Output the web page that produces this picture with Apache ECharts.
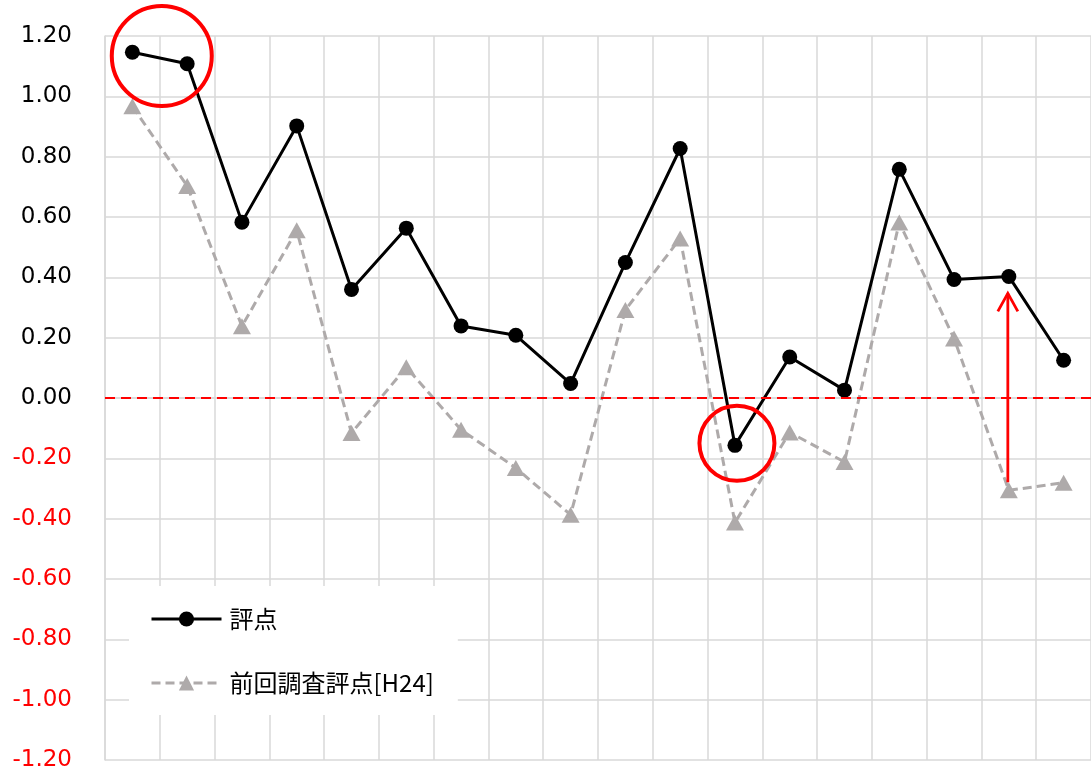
<!DOCTYPE html>
<html>
<head>
<meta charset="utf-8">
<script src="https://cdn.jsdelivr.net/npm/echarts@6/dist/echarts.min.js"></script>
<style>
html, body { margin: 0; padding: 0; background: #ffffff; }
#chart { width: 1091px; height: 772px; }
</style>
</head>
<body>
<div id="chart"></div>
<script>
// ---- data ----
const categories = ['1','2','3','4','5','6','7','8','9','10','11','12','13','14','15','16','17','18'];
const seriesNames = ['評点', '前回調査評点[H24]'];
const scores = [1.146, 1.108, 0.583, 0.902, 0.360, 0.563, 0.239, 0.208, 0.048, 0.449, 0.827, -0.157, 0.136, 0.026, 0.758, 0.393, 0.403, 0.125];
const previousScores = [0.967, 0.703, 0.238, 0.556, -0.116, 0.102, -0.105, -0.232, -0.387, 0.292, 0.529, -0.413, -0.114, -0.212, 0.582, 0.197, -0.306, -0.281];
const yAxisMin = -1.2;
const yAxisMax = 1.2;
const yAxisStep = 0.2;
const referenceLineValue = 0;
// annotations: groups of categories circled in red, and the category with the red arrow
const circledGroups = [[0, 1], [11, 11]];
const arrowCategories = [16];

const chart = echarts.init(document.getElementById('chart'), null, { renderer: 'canvas' });

const gridColor = '#D9D9D9';
const grayColor = '#AEAAAA';
const red = '#FF0000';

const option = {
  animation: false,
  backgroundColor: '#ffffff',
  grid: { left: 105, top: 36, width: 990, height: 724, containLabel: false },
  legend: {
    orient: 'vertical',
    left: 129,
    top: 586,
    data: seriesNames,
    backgroundColor: '#ffffff',
    padding: [20, 24, 19, 21],
    itemGap: 38,
    itemWidth: 70,
    itemHeight: 19,
    lineStyle: { width: 3 },
    textStyle: { fontFamily: '"Noto Sans CJK JP", "DejaVu Sans", sans-serif', fontSize: 24, lineHeight: 26, color: '#000000', padding: [0, 0, 0, 3] },
    selectedMode: false,
    z: 10
  },
  xAxis: [{
    type: 'category',
    data: categories,
    boundaryGap: true,
    axisLine: { show: true, lineStyle: { color: gridColor, width: 1.5 } },
    axisTick: { show: false },
    axisLabel: { show: false },
    splitLine: { show: true, lineStyle: { color: gridColor, width: 1.5 } }
  }],
  yAxis: [{
    type: 'value',
    min: yAxisMin,
    max: yAxisMax,
    interval: yAxisStep,
    axisLine: { show: true, lineStyle: { color: gridColor, width: 1.5 } },
    axisTick: { show: false },
    splitLine: { show: true, lineStyle: { color: gridColor, width: 1.5 } },
    axisLabel: {
      margin: 33,
      fontFamily: '"DejaVu Sans", Verdana, sans-serif',
      fontSize: 23,
      formatter: v => Number(v).toFixed(2),
      color: v => (Number(v) < -1e-9 ? red : '#000000')
    }
  }],
  series: [
    {
      name: seriesNames[1],
      type: 'line',
      data: previousScores,
      z: 2,
      symbol: 'triangle',
      symbolSize: [18, 16],
      itemStyle: { color: grayColor },
      lineStyle: { color: grayColor, width: 3, type: [9, 5] },
      markLine: {
        silent: true,
        symbol: ['none', 'none'],
        label: { show: false },
        lineStyle: { color: red, width: 2.2, type: [10, 6] },
        data: [{ yAxis: referenceLineValue }]
      }
    },
    {
      name: seriesNames[0],
      type: 'line',
      data: scores,
      z: 3,
      symbol: 'circle',
      symbolSize: 15,
      itemStyle: { color: '#000000' },
      lineStyle: { color: '#000000', width: 3 }
    },
    {
      name: 'circles',
      type: 'custom',
      z: 5,
      silent: true,
      data: circledGroups.map((g, i) => [g[0], i]),
      encode: { x: 0 },
      renderItem: function (params, api) {
        const g = circledGroups[params.dataIndex];
        const pts = [];
        for (let i = g[0]; i <= g[1]; i++) pts.push(api.coord([i, scores[i]]));
        const cx = pts.reduce((s, p) => s + p[0], 0) / pts.length + 2;
        const cy = pts.reduce((s, p) => s + p[1], 0) / pts.length - 2;
        const r = g[1] > g[0] ? 50 : 37.5;
        return {
          type: 'circle',
          shape: { cx: cx, cy: cy, r: r },
          style: { fill: 'none', stroke: red, lineWidth: 4 }
        };
      }
    },
    {
      name: 'arrow',
      type: 'custom',
      z: 5,
      silent: true,
      data: arrowCategories.map(c => [c, previousScores[c]]),
      encode: { x: 0, y: 1 },
      renderItem: function (params, api) {
        const c = arrowCategories[params.dataIndex];
        const from = api.coord([c, previousScores[c]]);
        const to = api.coord([c, scores[c]]);
        const x = from[0] - 1;
        const y0 = from[1] - 8;
        const y1 = to[1] + 17;
        return {
          type: 'group',
          children: [
            { type: 'line', shape: { x1: x, y1: y0, x2: x, y2: y1 }, style: { stroke: red, lineWidth: 2.8 } },
            { type: 'polyline', shape: { points: [[x - 10, y1 + 18], [x, y1], [x + 10, y1 + 18]] }, style: { stroke: red, lineWidth: 2.8, fill: 'none' } }
          ]
        };
      }
    }
  ]
};

chart.setOption(option);
</script>
</body>
</html>
